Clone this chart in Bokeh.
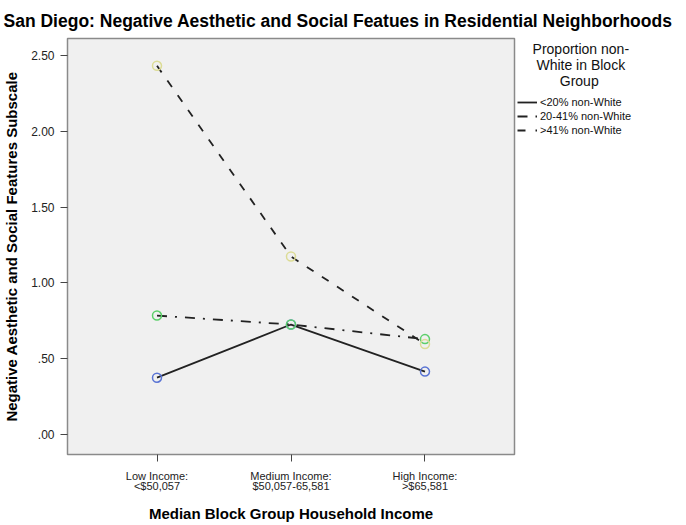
from bokeh.plotting import figure
from bokeh.models import FactorRange, Legend, LegendItem, FixedTicker, ColumnDataSource
from bokeh.embed import file_html
from bokeh.resources import INLINE

categories = ["Low Income:\n<$50,057", "Medium Income:\n$50,057-65,581", "High Income:\n>$65,581"]
series_names = ["<20% non-White", "20-41% non-White", ">41% non-White"]
under20 = [0.376, 0.726, 0.416]
mid20_41 = [0.785, 0.726, 0.630]
over41 = [2.43, 1.174, 0.597]
y_ticks = [0.0, 0.5, 1.0, 1.5, 2.0, 2.5]
y_tick_labels = [".00", ".50", "1.00", "1.50", "2.00", "2.50"]
legend_title_lines = ["Proportion non-", "White in Block", "Group"]
legend_title_indent = [4, 5, 11]  # non-breaking spaces to centre each heading line

FONT = "Liberation Sans"

p = figure(
    x_range=FactorRange(factors=categories, range_padding=0.112, range_padding_units="percent"),
    y_range=(-0.13, 2.61),
    width=670, height=521,
    frame_width=447, frame_height=416,
    min_border_left=64, min_border_right=159, min_border_top=38, min_border_bottom=67,
    output_backend="svg", toolbar_location=None,
    title="San Diego: Negative Aesthetic and Social Featues in Residential Neighborhoods",
)
p.title.text_font = FONT
p.title.text_font_size = "17.5px"
p.title.text_font_style = "bold"
p.title.text_color = "#000000"
p.title.offset = -64
p.title.standoff = 16

p.border_fill_color = "white"
p.background_fill_color = "#f0f0f0"
p.outline_line_color = "#8a8a8a"
p.outline_line_width = 1.5
p.xgrid.visible = False
p.ygrid.visible = False

# axes
p.yaxis.ticker = FixedTicker(ticks=y_ticks)
p.yaxis.major_label_overrides = {t: l for t, l in zip(y_ticks, y_tick_labels)}
p.yaxis.minor_tick_line_color = None
p.yaxis.axis_line_color = None
p.xaxis.axis_line_color = None
for ax in (p.xaxis[0], p.yaxis[0]):
    ax.major_tick_out = 7
    ax.major_tick_in = 0
    ax.major_tick_line_color = "#444444"
    ax.major_label_text_font = FONT
    ax.major_label_text_font_size = "12px"
    ax.major_label_text_color = "#222222"
    ax.axis_label_text_font = FONT
    ax.axis_label_text_font_style = "bold"
    ax.axis_label_text_font_size = "15px"
    ax.axis_label_text_color = "#000000"
p.xaxis.major_label_text_font_size = "11px"
p.xaxis.major_label_text_line_height = 0.9
p.xaxis.major_label_standoff = 8
p.yaxis.major_label_standoff = 6
p.xaxis.axis_label = "Median Block Group Household Income"
p.yaxis.axis_label = "Negative Aesthetic and Social Features Subscale"
p.xaxis.axis_label_standoff = 10
p.yaxis.axis_label_standoff = 8

series = [
    (under20, "solid", "#5a74d4"),
    (mid20_41, "10 8 2 8", "#5ccf6a"),
    (over41, "8 10", "#dcdc96"),
]
items = []
for (vals, dash, col), name in zip(series, series_names):
    src = ColumnDataSource(dict(x=categories, y=vals))
    ln = p.line("x", "y", source=src, line_color="#222222", line_width=1.8, line_dash=dash)
    p.scatter("x", "y", source=src, size=9, marker="circle", fill_color=None,
              line_color=col, line_width=1.5)
    items.append(LegendItem(label=name, renderers=[ln]))

legend = Legend(items=items, location="top_left")
legend.title = "\n".join("\u00a0" * n + t for n, t in zip(legend_title_indent, legend_title_lines))
legend.title_text_font = FONT
legend.title_text_font_size = "14px"
legend.title_text_font_style = "normal"
legend.title_text_color = "#111111"
legend.title_text_line_height = 1.0
legend.title_standoff = 7
legend.label_text_font = FONT
legend.label_text_font_size = "11px"
legend.label_text_color = "#111111"
legend.glyph_width = 20
legend.glyph_height = 12
legend.label_height = 12
legend.spacing = 2
legend.padding = 0
legend.margin = 3
legend.label_standoff = 3
legend.border_line_color = None
legend.background_fill_alpha = 0
p.add_layout(legend, "right")

open("out.html", "w").write(file_html(p, INLINE))
